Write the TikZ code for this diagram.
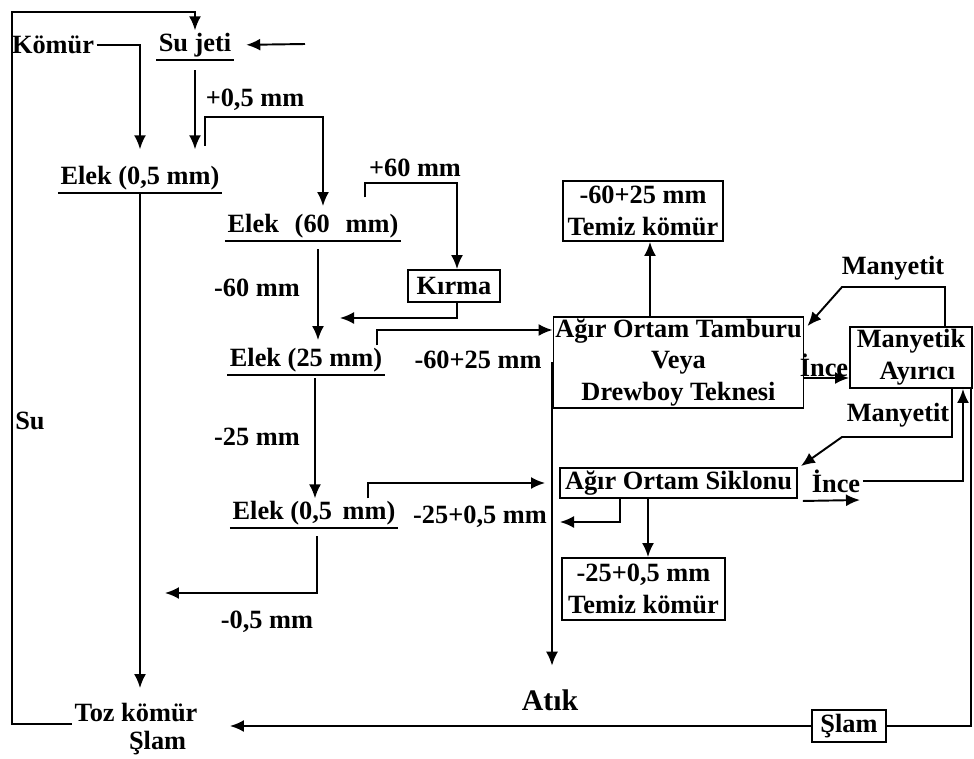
\documentclass[tikz,border=0pt]{standalone}
\usepackage{fontspec}
\setmainfont{Liberation Serif}
\usetikzlibrary{arrows.meta,calc}

\begin{document}
\begin{tikzpicture}[x=0.02cm,y=-0.02cm,line width=1.1pt,
    font=\bfseries\fontsize{15}{18}\selectfont,
    lbl/.style={inner sep=1pt},
    box/.style={draw,inner sep=1pt,align=center},
    arr/.style={-{Latex[length=2.8mm,width=2.4mm]}}]
  \useasboundingbox (0,0) rectangle (974,758);

  \node[lbl] (komur) at (53,45) {Kömür};
  \node[lbl] (sujeti) at (195,45) {Su jeti};
  \node[lbl] (elekA) at (140,178) {Elek (0,5 mm)};
  \node[lbl,align=left,font=\bfseries\fontsize{15}{16}\selectfont] (toz) at (136,729) {Toz kömür\\\hspace*{31pt}Şlam};
  \node[lbl] (su) at (30,421) {Su};
  \node[lbl] (elekB) at (313,226) {Elek\hspace{9pt}(60\hspace{9pt}mm)};
  \node[box,minimum width=1.84cm,minimum height=0.64cm] (kirma) at (454,286) {Kırma};
  \node[lbl] (elekC) at (306,360) {Elek (25 mm)};
  \node[lbl] (elekD) at (314,513) {Elek (0,5\hspace{6pt}mm)};

  \node[lbl] (l05p) at (255,100) {+0,5 mm};
  \node[lbl] (l60p) at (415,168) {+60 mm};
  \node[lbl] (l60m) at (257,288) {-60 mm};
  \node[lbl] (l6025) at (478,360) {-60+25 mm};
  \node[lbl] (l25m) at (257,437) {-25 mm};
  \node[lbl] (l2505) at (480,517) {-25+0,5 mm};
  \node[lbl] (l05m) at (267,622) {-0,5 mm};

  \node[box,minimum width=4.74cm,minimum height=1.82cm] (tambur) at (678.5,362.5) {Ağır Ortam Tamburu\\Veya\\Drewboy Teknesi};
  \node[box,minimum width=3.2cm,minimum height=1.2cm] (temizA) at (643,211) {-60+25 mm\\Temiz kömür};
  \node[box,minimum width=2.44cm,minimum height=1.22cm,align=left] (manyetik) at (911,357.5) {Manyetik\\\hspace*{13pt}Ayırıcı};
  \node[box,minimum width=4.74cm,minimum height=0.6cm] (siklon) at (678.5,483) {Ağır Ortam Siklonu};
  \node[box,minimum width=3.26cm,minimum height=1.24cm] (temizB) at (643.5,589) {-25+0,5 mm\\Temiz kömür};
  \node[box,minimum width=1.48cm,minimum height=0.64cm] (slam) at (849,726) {Şlam};
  \node[lbl,font=\bfseries\fontsize{17}{20}\selectfont] (atik) at (550,700) {Atık};
  \node[lbl] (mag1) at (893,268) {Manyetit};
  \node[lbl] (mag2) at (898,415) {Manyetit};
  \node[lbl] (ince1) at (824,365) {İnce};
  \node[lbl] (ince2) at (836,481) {İnce};

  \foreach \u in {sujeti,elekA,elekB,elekC,elekD}
    \draw (\u.south west) -- (\u.south east);

  \coordinate (loopTL) at (12,12);
  \coordinate (jetin) at (305,44);
  \coordinate (pA) at (205,117);
  \coordinate (pB) at (323,117);
  \coordinate (qA) at (365,183);
  \coordinate (qB) at (457,183);
  \coordinate (kret) at (340,318);
  \coordinate (x60) at (318,0);
  \coordinate (c25) at (377,330);
  \coordinate (x25) at (315,0);
  \coordinate (c05) at (368,483);
  \coordinate (x05) at (317,0);
  \coordinate (fines) at (165,593);
  \coordinate (atiktop) at (552,362);
  \coordinate (sret) at (620,522);
  \coordinate (sret2) at (560,522);
  \coordinate (x648) at (648,0);
  \coordinate (x650) at (650,0);
  \coordinate (y378) at (0,378);
  \coordinate (mA) at (945,287);
  \coordinate (mB) at (842,287);
  \coordinate (nA) at (952,437);
  \coordinate (nB) at (842,437);
  \coordinate (inceout) at (860,500);
  \coordinate (x963) at (963,0);

  \draw[arr] ([yshift=3pt]toz.west) -| (loopTL) -| (sujeti.north);
  \draw[arr,shorten >=8pt] (komur.east) -| (elekA.north);
  \draw[arr,shorten <=6pt,shorten >=8pt] (sujeti.south) -- (sujeti.south |- elekA.north);
  \draw[arr,shorten >=7pt] (jetin) -- (sujeti.east);
  \draw[arr,shorten <=10pt,shorten >=3pt] (elekA.north -| pA) -- (pA) -- (pB) -- (elekB.north -| pB);
  \draw[arr,shorten <=8pt] (elekB.north -| qA) -- (qA) -- (qB) -- (kirma.north -| qB);
  \draw[arr] (kirma.south -| qB) |- (kret);
  \draw[arr,shorten <=5pt,shorten >=3pt] (elekB.south -| x60) -- (elekC.north -| x60);
  \draw[arr] (elekC.north -| c25) -- (c25) -- (c25 -| tambur.west);
  \draw[arr,shorten <=2pt] (elekC.south -| x25) -- (elekD.north -| x25);
  \draw[arr,shorten >=8pt] (elekD.north -| c05) -- (c05) -- (c05 -| siklon.west);
  \draw[arr,shorten <=5pt] (elekD.south -| x05) |- (fines);
  \draw[arr,shorten >=7pt] (elekA.south) -- (elekA.south |- toz.north);
  \draw[arr,shorten >=12pt] (atiktop) -- (atiktop |- atik.north);

  \draw[arr] (tambur.north -| x650) -- (temizA.south -| x650);
  \draw[arr] (tambur.east |- y378) -- (manyetik.west |- y378);
  \draw[arr] (manyetik.north -| mA) -- (mA) -- (mB) -- ($(tambur.north east)+(3,10)$);
  \draw[arr] (manyetik.south -| nA) -- (nA) -- (nB) -- ($(siklon.north east)+(3,-1)$);
  \draw[arr] (siklon.south -| sret) |- (sret2);
  \draw[arr] (siklon.south -| x648) -- (temizB.north -| x648);
  \draw[arr] ($(siklon.south east)+(5,2)$) -- (inceout);
  \draw[arr] (ince2.east) -| (manyetik.south -| x963);
  \draw ($(manyetik.south east)+(-2,0)$) |- (slam.east);
  \draw[arr,shorten >=17pt] (slam.west) -- (slam.west -| toz.east);
\end{tikzpicture}
\end{document}
